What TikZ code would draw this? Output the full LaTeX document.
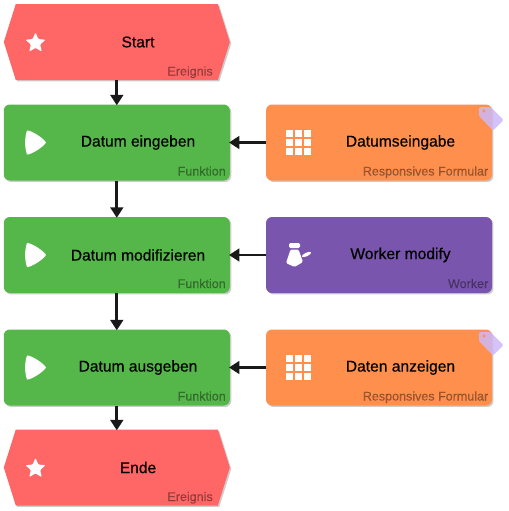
\documentclass[tikz,border=0pt]{standalone}
\usepackage{fontspec}
\setmainfont[FakeBold=0.4]{Liberation Sans}
\usetikzlibrary{arrows.meta,shadows,shapes.geometric,shapes.symbols}
\definecolor{eventred}{HTML}{FF6666}
\definecolor{funcgreen}{HTML}{55B74A}
\definecolor{formorange}{HTML}{FF8F4D}
\definecolor{workerpurple}{HTML}{7A55AD}
\definecolor{taglilac}{HTML}{CDB9F8}
\tikzset{
  softshadow/.style={drop shadow={shadow xshift=1.1pt,shadow yshift=-1.1pt,opacity=.2,fill=black}},
  roundbox/.style={rectangle,rounded corners=4.5pt,minimum width=169.5pt,minimum height=57pt,inner sep=0pt,outer sep=0pt,softshadow},
  eventbox/.style={signal,signal to=west and east,signal pointer angle=145,
    minimum width=169.5pt,minimum height=57pt,inner sep=0pt,outer sep=0pt,fill=eventred,softshadow},
  titletext/.style={font=\fontsize{11.7}{13}\selectfont,text=black},
  kindtext/.style={font=\fontsize{9.4}{11}\selectfont,text=black,text opacity=.36,anchor=base east,inner sep=0pt},
  iconwhite/.style={fill=white,draw=none},
  flow/.style={line width=2.2pt,black!90,shorten >=-0.6pt,-{Triangle[length=7.8pt,width=9.5pt]}},
}
\begin{document}
\begin{tikzpicture}[x=0.75pt,y=-0.75pt]
  \useasboundingbox (0,0) rectangle (508,511);
  % events
  \foreach \nm/\y/\txt in {start/42/Start,ende/467.5/Ende}{
    \node[eventbox] (\nm) at (116.8,\y) {};
    \node[titletext] (\nm title) at (138,\y) {\txt};
    \node[kindtext] (\nm kind) at (213,\y+33.5) {Ereignis};
    \node[star,star points=5,star point ratio=2.2,minimum size=16pt,inner sep=0pt,
      rounded corners=.8pt,iconwhite] (\nm icon) at (35.5,\y+1) {};
  }
  % functions
  \foreach \nm/\y/\txt in {eingeben/142.5/Datum eingeben,modifizieren/255/Datum modifizieren,ausgeben/367.5/Datum ausgeben}{
    \node[roundbox,fill=funcgreen] (\nm) at (116.8,\y) {};
    \node[titletext] (\nm title) at (138,\y) {\txt};
    \node[kindtext] (\nm kind) at (226,\y+33) {Funktion};
    \fill[white,shift={(35,\y)}] (-8,-12) .. controls (-4,-12.5) and (9,-4) .. (11,0)
      .. controls (9,4) and (-4,12.5) .. (-8,12) .. controls (-10.5,5) and (-10.5,-5) .. (-8,-12) -- cycle;
  }
  % forms
  \foreach \nm/\y/\txt in {eingabe/142.5/Datumseingabe,anzeigen/367.5/Daten anzeigen}{
    \node[roundbox,fill=formorange] (\nm) at (379,\y) {};
    \node[titletext] (\nm title) at (400.5,\y) {\txt};
    \node[kindtext] (\nm kind) at (488.5,\y+33) {Responsives Formular};
    \foreach \i in {0,1,2}
      \foreach \j in {0,1,2}
        \fill[white] (286+9.1*\i,\y-12.5+9.1*\j) rectangle ++(6.6,6.6);
    \fill[taglilac,fill opacity=.85,rounded corners=1pt,shift={(0,\y-142.5)}]
      (479,107) -- (490.5,107) -- (503.5,120) -- (493,130.5) -- (479,116) -- cycle;
    \fill[formorange,shift={(0,\y-142.5)}] (484,111) circle (1.2pt);
  }
  % worker
  \node[roundbox,fill=workerpurple] (worker) at (379,255) {};
  \node[titletext] (worker title) at (400.5,255) {Worker modify};
  \node[kindtext] (worker kind) at (488.5,288) {Worker};
  \fill[white,rounded corners=1pt] (289,243) rectangle (300,248);
  \fill[white,rounded corners=1pt] (290.5,249.5) -- (298.5,249.5) -- (303,262) -- (294.5,267) -- (286,263) -- cycle;
  \fill[white,rotate around={25:(306.5,254.5)}] (306.5,254.5) ellipse (5 and 1.8);
  % connectors
  \draw[flow] (start) -- (eingeben);
  \draw[flow] (eingeben) -- (modifizieren);
  \draw[flow] (modifizieren) -- (ausgeben);
  \draw[flow] (ausgeben) -- (ende);
  \draw[flow] (eingabe) -- (eingeben);
  \draw[flow] (worker) -- (modifizieren);
  \draw[flow] (anzeigen) -- (ausgeben);
\end{tikzpicture}
\end{document}
